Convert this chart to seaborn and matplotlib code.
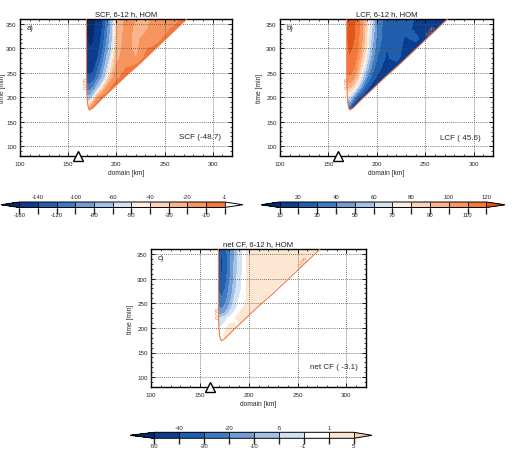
import numpy as np
import matplotlib
matplotlib.use("Agg")
import matplotlib.pyplot as plt
from matplotlib.colors import ListedColormap, BoundaryNorm
from matplotlib.patches import Polygon
from matplotlib.ticker import MultipleLocator
import seaborn as sns

sns.set_theme(style="white")
plt.rcParams['font.family'] = ['Liberation Sans', 'DejaVu Sans']

# ---------------- data ----------------
x_km = [168, 172, 176, 180, 185, 190, 195, 200, 210, 220, 230, 240, 250, 260, 270, 280]
t_min = [170, 185, 200, 220, 240, 260, 280, 300, 320, 340, 360]

scf = [
    [-8, -8, -6, -5, -5, -5, -5, -5, -5, -5, -5, -5, -5, -5, -5, -5],
    [-40, -40, -15, -6, -5, -5, -5, -5, -5, -5, -5, -5, -5, -5, -5, -5],
    [-75, -75, -52, -22, -8, -5, -5, -5, -5, -5, -5, -5, -5, -5, -5, -5],
    [-108, -112, -100, -72, -42, -18, -9, -6, -5, -5, -5, -5, -5, -5, -5, -5],
    [-132, -138, -132, -112, -80, -48, -24, -12, -6, -5, -5, -5, -5, -5, -5, -5],
    [-146, -150, -146, -130, -100, -62, -38, -18, -10, -6, -5, -5, -5, -5, -5, -5],
    [-152, -156, -154, -143, -115, -78, -48, -24, -12, -20, -8, -5, -5, -5, -5, -5],
    [-156, -160, -158, -150, -128, -92, -60, -27, -14, -24, -12, -6, -5, -5, -5, -5],
    [-158, -163, -161, -154, -136, -102, -66, -29, -15, -24, -14, -22, -7, -5, -5, -5],
    [-160, -165, -163, -156, -141, -110, -70, -30, -16, -22, -24, -12, -18, -6, -5, -5],
    [-161, -166, -164, -158, -145, -115, -74, -31, -17, -20, -26, -14, -12, -20, -6, -5],
]

lcf = [
    [12, 12, 12, 12, 12, 12, 12, 12, 12, 12, 12, 12, 12, 12, 12, 12],
    [40, 40, 18, 12, 12, 12, 12, 12, 12, 12, 12, 12, 12, 12, 12, 12],
    [65, 65, 45, 24, 15, 12, 12, 12, 12, 12, 12, 12, 12, 12, 12, 12],
    [88, 92, 84, 62, 38, 22, 15, 13, 12, 12, 12, 12, 12, 12, 12, 12],
    [104, 108, 102, 88, 62, 40, 26, 18, 13, 12, 12, 12, 12, 12, 12, 12],
    [112, 116, 112, 100, 78, 54, 36, 24, 15, 12, 12, 12, 12, 12, 12, 12],
    [115, 119, 117, 107, 88, 66, 44, 30, 18, 24, 13, 12, 12, 12, 12, 12],
    [117, 121, 119, 111, 96, 74, 50, 34, 20, 26, 15, 12, 12, 12, 12, 12],
    [118, 123, 121, 114, 100, 78, 56, 37, 22, 26, 18, 24, 12, 12, 12, 12],
    [118, 124, 122, 115, 102, 80, 60, 39, 22, 25, 26, 16, 20, 12, 12, 12],
    [118, 124, 123, 116, 104, 82, 62, 40, 22, 24, 28, 18, 14, 22, 12, 12],
]

net_cf = [
    [0, 0, 0, 0, 0, 0, 0, 0, 0, 0, 0, 0, 0, 0, 0, 0],
    [0, 0.3, 1.5, 1.2, 0.3, 0, 0, 0, 0, 0, 0, 0, 0, 0, 0, 0],
    [-0.5, -0.3, 0.5, 1.8, 1.5, 0, 0, 0, 0, 0, 0, 0, 0, 0, 0, 0],
    [-3.5, -4, -2, -0.3, 0.5, 2, 1.6, 0, 0, 0, 0, 0, 0, 0, 0, 0],
    [-18, -22, -16, -8, -2, 0, 1.2, 2.2, 0.3, 0, 0, 0, 0, 0, 0, 0],
    [-25, -30, -25, -14, -5, -1, 0, 2, 2.5, 0.3, 0, 0, 0, 0, 0, 0],
    [-30, -35, -30, -18, -7, -2, 0, 2, 2.5, 2.5, 0.3, 0, 0, 0, 0, 0],
    [-33, -38, -34, -22, -8, -2.5, 0, 2, 2.5, 2.5, 2.5, 0.6, 0, 0, 0, 0],
    [-36, -42, -37, -25, -9, -3, 0, 2, 2.5, 2.5, 2.5, 2.5, 0.6, 0, 0, 0],
    [-37, -41, -37, -24, -10, -3, 0, 2, 2.5, 2.5, 2.5, 2.5, 2.5, 0.8, 0, 0],
    [-34, -38, -34, -23, -10, -3, 0, 2, 2.5, 2.5, 2.5, 2.5, 2.5, 2.5, 1.1, 0],
]

# outline of the 0.05 cloud-fraction contour (time, left x, right x)
edge_t = [360, 330, 300, 270, 240, 210, 195, 185, 178, 174]
edge_left = [169, 169, 169, 169, 169, 169.3, 169.8, 170.3, 171, 172]
edge_right = [273, 257, 241, 225, 208, 192, 184, 179, 175.5, 172]

storm_x = 160
panel_titles = ["SCF, 6-12 h, HOM", "LCF, 6-12 h, HOM", "net CF, 6-12 h, HOM"]
panel_letters = ["a)", "b)", "c)"]
panel_means = ["SCF (-48.7)", "LCF ( 45.6)", "net CF ( -3.1)"]
scf_levels = [-160, -140, -120, -100, -80, -60, -50, -40, -30, -20, -10, -1]
lcf_levels = [10, 20, 30, 40, 50, 60, 70, 80, 90, 100, 110, 120]
net_levels = [-50, -40, -30, -20, -10, -5, -1, 1, 5]
contour_label = "0.05"

# ---------------- colours ----------------
blues = ['#0a3d8f', '#1f5fae', '#3e7bc2', '#6f9dd4', '#a4c2e6', '#d3e3f4']
oranges = ['#fdeee1', '#fcd3b4', '#fab48a', '#f7955f', '#f3763a']
navy = '#072b6b'
line_col = '#ef7a48'

cmap_scf = ListedColormap(blues + oranges)
cmap_scf.set_under(navy)
cmap_scf.set_over('#ffffff')
cmap_lcf = ListedColormap(blues + oranges)
cmap_lcf.set_under(navy)
cmap_lcf.set_over('#e2561a')
cmap_net = ListedColormap(blues + ['#ffffff', '#fde6d2'])
cmap_net.set_under(navy)
cmap_net.set_over('#fad0ae')

# ---------------- layout (pixels) ----------------
W, H = 521, 456
fig = plt.figure(figsize=(W / 100, H / 100), dpi=100)


def box(l, t, w, h):
    return [l / W, 1 - (t + h) / H, w / W, h / H]


axes_px = [(20, 20, 212, 137), (280, 20, 213, 137), (151, 250, 215, 138)]
cbar_px = [(1, 203, 242, 5.5), (261, 203, 244, 5.5), (130, 433.3, 242, 6)]
cbar_ext = [[0.09, 0.09], [0.09, 0.09], [0.122, 0.092]]
ylabel_pad = [0.4, 2, 2]
fields = [scf, lcf, net_cf]
levels_all = [scf_levels, lcf_levels, net_levels]
cmaps = [cmap_scf, cmap_lcf, cmap_net]

X, T = np.meshgrid(x_km, t_min)
poly_x = list(edge_left) + list(edge_right[::-1])
poly_y = list(edge_t) + list(edge_t[::-1])

for i in range(3):
    ax = fig.add_axes(box(*axes_px[i]))
    Z = np.array(fields[i], dtype=float)
    lev = levels_all[i]
    norm = BoundaryNorm(lev, cmaps[i].N)
    cs = ax.contourf(X, T, Z, levels=lev, cmap=cmaps[i], norm=norm,
                     extend='both', zorder=1)
    clip = Polygon(np.column_stack([poly_x, poly_y]), closed=True,
                   transform=ax.transData, fc='none', ec='none')
    ax.add_patch(clip)
    cs.set_clip_path(clip)

    sns.lineplot(x=poly_x, y=poly_y, sort=False, estimator=None,
                 color=line_col, linewidth=0.8, ax=ax, zorder=3)

    ax.text(169.2, 232, contour_label, rotation=90, color=line_col,
            fontsize=4.5, ha='center', va='center', zorder=4)
    ax.text(256, 336, contour_label, rotation=52, color=line_col,
            fontsize=4.5, ha='center', va='center', zorder=4)

    ax.plot([storm_x], [80], marker='^', markersize=6.5, mfc='white',
            mec='black', mew=1.0, clip_on=False, zorder=6, linestyle='none')

    ax.set_xlim(100, 320)
    ax.set_ylim(80, 360)
    ax.xaxis.set_major_locator(MultipleLocator(50))
    ax.xaxis.set_minor_locator(MultipleLocator(10))
    ax.yaxis.set_major_locator(MultipleLocator(50))
    ax.yaxis.set_minor_locator(MultipleLocator(10))
    ax.set_axisbelow(False)
    ax.grid(True, which='major', linestyle=(0, (1, 1.5)), color='0.3',
            linewidth=0.6)
    ax.tick_params(which='both', direction='in', top=True, right=True,
                   bottom=True, left=True, color='black')
    ax.tick_params(which='major', length=3, width=0.6, labelsize=4.5, pad=3.5)
    ax.tick_params(which='minor', length=1.5, width=0.5)
    ax.tick_params(axis='y', pad=2.4)
    for sp in ax.spines.values():
        sp.set_color('black')
        sp.set_linewidth(1.0)
    ax.set_xlabel("domain [km]", fontsize=4.8, labelpad=2, color='0.15')
    ax.set_ylabel("time [min]", fontsize=4.8, labelpad=ylabel_pad[i],
                  color='0.15')
    ax.set_title(panel_titles[i], fontsize=5.5, pad=3.2, color='0.1')
    ax.text(0.03, 0.94, panel_letters[i], transform=ax.transAxes,
            fontsize=5.5, ha='left', va='center', color='0.1')
    ax.text([0.947, 0.942, 0.96][i], [0.139, 0.136, 0.147][i], panel_means[i],
            transform=ax.transAxes, fontsize=5.8, ha='right', va='center',
            color='0.15')

    # colour bar
    cax = fig.add_axes(box(*cbar_px[i]))
    cb = fig.colorbar(cs, cax=cax, orientation='horizontal', drawedges=True,
                      extendfrac=cbar_ext[i])
    cb.outline.set_edgecolor('black')
    cb.outline.set_linewidth(0.7)
    cb.dividers.set_color('black')
    cb.dividers.set_linewidth(0.6)
    cb.set_ticks([])
    cb.ax.tick_params(length=0)
    n = len(lev)
    for k, v in enumerate(lev):
        f = k / (n - 1)
        if k % 2 == 0:
            cb.ax.annotate(str(v), xy=(f, 0), xycoords='axes fraction',
                           xytext=(0, -3.6), textcoords='offset points',
                           ha='center', va='top', fontsize=4.3, color='0.15')
        else:
            cb.ax.annotate(str(v), xy=(f, 1), xycoords='axes fraction',
                           xytext=(0, 2.0), textcoords='offset points',
                           ha='center', va='bottom', fontsize=4.3, color='0.15')

fig.savefig("out.png", dpi=100, facecolor='white')
